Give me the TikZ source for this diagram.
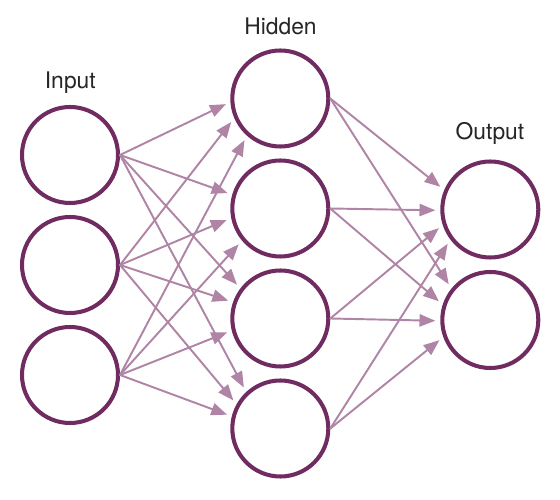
\documentclass[tikz,border=0pt]{standalone}
\usepackage{fontspec}
\setmainfont{TeX Gyre Heros}
\usetikzlibrary{arrows.meta}
\definecolor{netplum}{RGB}{112,44,96}
\definecolor{netmauve}{RGB}{175,132,165}

\begin{document}
\begin{tikzpicture}[>={Triangle[length=9pt,width=7pt]},line cap=round,line join=round,
  neuron/.style={circle,draw=netplum,line width=2.3pt,minimum size=1.92cm,inner sep=0pt},
  synapse/.style={->,netmauve,line width=1.1pt,shorten >=.1cm},
  layer/.style={text=black!85,font=\fontsize{13}{15}\selectfont,anchor=base}]
 \useasboundingbox (0,0) rectangle (11.2,-10);
 % layers
 \foreach \n/\y in {1/-3.1,2/-5.3,3/-7.5}
  \node[neuron] (i\n) at (1.4,\y) {};
 \foreach \n/\y in {1/-1.97,2/-4.17,3/-6.37,4/-8.57}
  \node[neuron] (h\n) at (5.606,\y) {};
 \foreach \n/\y in {1/-4.19,2/-6.4}
  \node[neuron] (o\n) at (9.806,\y) {};
 % weights
 \foreach \s/\t/\a in {i1/h1/184,i2/h1/203,i3/h1/228,
   i1/h2/164,i2/h2/191,i3/h2/220,
   i1/h3/143,i2/h3/161,i3/h3/194,
   i1/h4/133,i2/h4/151,i3/h4/166,
   h1/o1/157,h2/o1/181,h3/o1/198,h4/o1/217,
   h1/o2/141,h2/o2/162,h3/o2/181,h4/o2/200}
  \draw[synapse] (\s.east) -- (\t.\a);
 % titles
 \node[layer] (inlab) at (1.406,-1.78) {Input};
 \node[layer] (hidlab) at (5.61,-.70) {Hidden};
 \node[layer] (outlab) at (9.8,-2.786) {Output};
\end{tikzpicture}
\end{document}
